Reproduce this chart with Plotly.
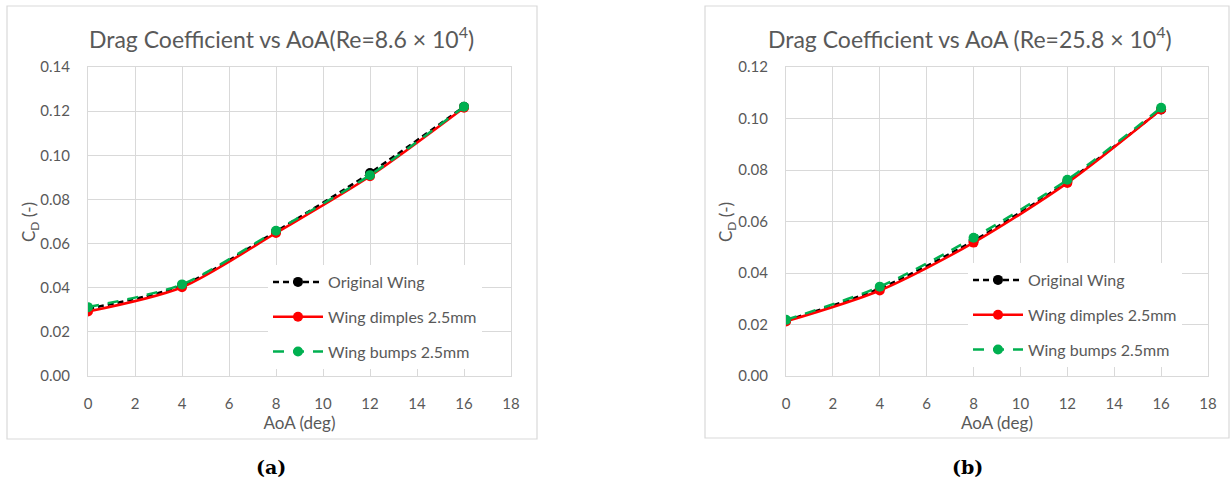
import plotly.graph_objects as go

# Angle of attack (deg)
aoa = [0, 4, 8, 12, 16]

# Drag coefficient, Re = 8.6 x 10^4
cd_a_original = [0.0305, 0.0410, 0.0655, 0.0920, 0.1220]
cd_a_dimples = [0.0292, 0.0402, 0.0648, 0.0905, 0.1215]
cd_a_bumps = [0.0312, 0.0415, 0.0658, 0.0910, 0.1220]

# Drag coefficient, Re = 25.8 x 10^4
cd_b_original = [0.0215, 0.0340, 0.0525, 0.0755, 0.1035]
cd_b_dimples = [0.0212, 0.0332, 0.0518, 0.0750, 0.1035]
cd_b_bumps = [0.0218, 0.0347, 0.0537, 0.0762, 0.1042]

series_names = ["Original Wing", "Wing dimples 2.5mm", "Wing bumps 2.5mm"]
titles = ["Drag Coefficient vs AoA(Re=8.6 × 10<sup>4</sup>)",
          "Drag Coefficient vs AoA (Re=25.8 × 10<sup>4</sup>)"]
captions = ["(a)", "(b)"]
x_title = "AoA (deg)"
y_title = "C<sub>D</sub> (-)"

W, H = 1231, 486
FONT = "Lato"
GREY = "#595959"
GRID = "#D9D9D9"

colors = ["#000000", "#FF0000", "#00B050"]
dashes = ["6px,4px", "solid", "11px,9px"]


def px(x):
    return x / W


def py(y):
    return 1 - y / H


fig = go.Figure()

panels = [
    dict(data=[cd_a_original, cd_a_dimples, cd_a_bumps], xa="x", ya="y", legend="legend",
         xdom=(88, 511), ymax=0.14, box=(7, 6, 537, 439), tx=281, cx=271, lx=268, ly=265,
         ytx=30),
    dict(data=[cd_b_original, cd_b_dimples, cd_b_bumps], xa="x2", ya="y2", legend="legend2",
         xdom=(786, 1208), ymax=0.12, box=(705, 6, 1229, 438), tx=970, cx=967, lx=968, ly=263,
         ytx=727),
]

for i, p in enumerate(panels):
    for name, vals, col, dash in zip(series_names, p["data"], colors, dashes):
        fig.add_trace(go.Scatter(
            x=aoa, y=vals, name=name, mode="lines+markers",
            line=dict(color=col, width=2.5, dash=dash, shape="spline", smoothing=0.8),
            marker=dict(color=col, size=10),
            xaxis=p["xa"], yaxis=p["ya"], legend=p["legend"], legendgroup=f"{i}-{name}",
        ))

axis_common = dict(showgrid=True, gridcolor=GRID, gridwidth=1, zeroline=False,
                   showline=True, linecolor=GRID, linewidth=1, mirror=True,
                   tickfont=dict(family=FONT, size=15, color=GREY), ticks="")

layout = dict(
    width=W, height=H, margin=dict(l=0, r=0, t=0, b=0, autoexpand=False),
    paper_bgcolor="white", plot_bgcolor="white", showlegend=True,
    font=dict(family=FONT, color=GREY),
)

for i, p in enumerate(panels):
    sfx = "" if i == 0 else str(i + 1)
    layout["xaxis" + sfx] = dict(
        axis_common, domain=[px(p["xdom"][0]), px(p["xdom"][1])], range=[0, 18], dtick=2,
        anchor="y" + sfx, ticklabelstandoff=14,
        title=dict(text=x_title, font=dict(family=FONT, size=17, color=GREY), standoff=6),
    )
    layout["yaxis" + sfx] = dict(
        axis_common, domain=[py(376), py(67)], range=[0, p["ymax"]], dtick=0.02,
        tickformat=".2f", anchor="x" + sfx, ticklabelstandoff=14,
    )
    layout[p["legend"]] = dict(
        x=px(p["lx"]), y=py(p["ly"]), xanchor="left", yanchor="top",
        bgcolor="white", traceorder="grouped", tracegroupgap=11, itemwidth=50,
        entrywidth=200, font=dict(family=FONT, size=16, color=GREY),
    )

fig.update_layout(**layout)

shapes = []
annotations = []
for i, p in enumerate(panels):
    x0, y0, x1, y1 = p["box"]
    # outer chart frame
    shapes.append(dict(type="rect", xref="paper", yref="paper",
                       x0=px(x0), x1=px(x1), y0=py(y1), y1=py(y0),
                       line=dict(color=GRID, width=1.2), fillcolor="rgba(0,0,0,0)", layer="below"))
    annotations.append(dict(text=titles[i], xref="paper", yref="paper", x=px(p["tx"]), y=py(38),
                            xanchor="center", yanchor="middle", showarrow=False,
                            font=dict(family=FONT, size=23, color=GREY)))
    # vertical axis title, set close to the tick labels
    annotations.append(dict(text=y_title, xref="paper", yref="paper", x=px(p["ytx"]), y=py(222),
                            xanchor="center", yanchor="middle", showarrow=False, textangle=-90,
                            font=dict(family=FONT, size=17, color=GREY)))
    annotations.append(dict(text=f"<b>{captions[i]}</b>", xref="paper", yref="paper",
                            x=px(p["cx"]), y=py(467), xanchor="center", yanchor="middle",
                            showarrow=False,
                            font=dict(family="DejaVu Serif", size=19, color="#000000")))

fig.update_layout(shapes=shapes, annotations=annotations)

fig.write_html("out.html")
